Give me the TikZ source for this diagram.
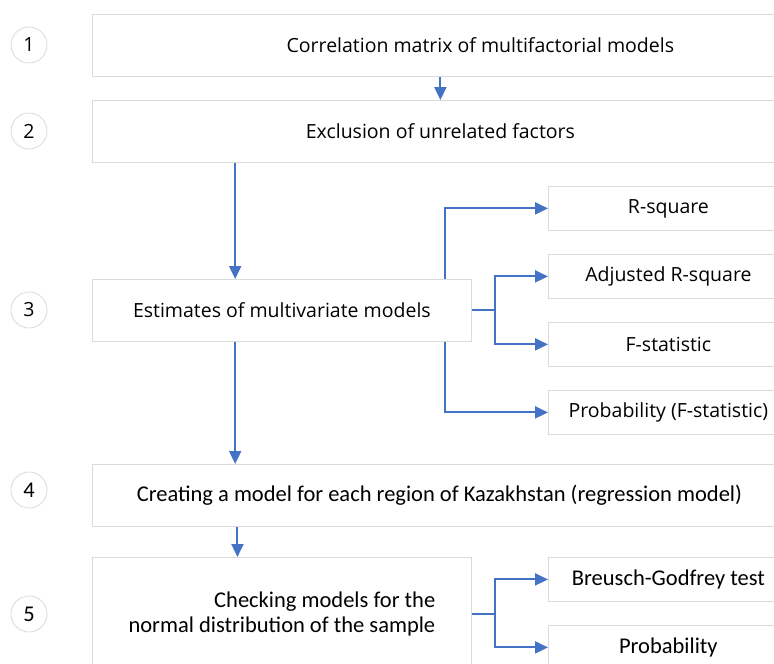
\documentclass[tikz,border=0pt]{standalone}
\usepackage{fontspec}
\setmainfont{Open Sans}
\newfontfamily\narrowfont{Carlito}
\usetikzlibrary{arrows.meta,positioning,calc}
\definecolor{flowblue}{HTML}{4472C4}
\definecolor{boxgray}{HTML}{DADADA}

\begin{document}
\begin{tikzpicture}[x=1pt,y=-1pt,>={Triangle[length=13pt,width=12pt]},
    every node/.style={font=\fontsize{19.5}{23}\selectfont},
    box/.style={draw=boxgray,line width=0.8pt,fill=white,inner sep=0pt,
      minimum height=62pt,anchor=north west},
    sidebox/.style={box,minimum width=240pt,minimum height=44pt},
    narrowtext/.style={font=\narrowfont\fontsize{22.5}{25}\selectfont},
    stepnum/.style={circle,draw=boxgray,line width=0.8pt,minimum size=36pt,
      inner sep=0pt},
    flow/.style={->,draw=flowblue,line width=2pt}]
    \useasboundingbox (0,0) rectangle (774,664);
    \clip (0,0) rectangle (774,664);

    % step numbers
    \node[stepnum] (n1) at (29,45) {1};
    \node[stepnum] (n2) at (29,131) {2};
    \node[stepnum] (n3) at (29,310) {3};
    \node[stepnum,narrowtext] (n4) at (29,490) {4};
    \node[stepnum,narrowtext] (n5) at (29,614) {5};

    % main boxes
    \node[box,minimum width=776pt] (b1) at (92,14)
    {Correlation matrix of multifactorial models};
    \node[box,minimum width=696pt] (b2) at (92,100)
    {Exclusion of unrelated factors};
    \node[box,minimum width=379pt] (b3) at (92,279)
    {Estimates of multivariate models};
    \node[box,narrowtext,minimum width=694pt] (b4) at (92,464)
    {Creating a model for each region of Kazakhstan (regression model)};
    \node[box,narrowtext,minimum width=379pt,minimum height=114pt,
      align=right] (b5) at (92,557)
    {Checking models for the\\normal distribution of the sample};

    % side boxes
    \node[sidebox] (r1) at (548,186) {R-square};
    \node[sidebox] (r2) at (548,254) {Adjusted R-square};
    \node[sidebox] (r3) at (548,322) {F-statistic};
    \node[sidebox] (r4) at (548,390) {Probability (F-statistic)};
    \node[sidebox,narrowtext] (t1) at (548,557) {Breusch-Godfrey test};
    \node[sidebox,narrowtext] (t2) at (548,625) {Probability};

    % main flow
    \draw[flow] (b1.south -| b2.north) -- (b2.north);
    \coordinate (d3) at ($(b3.north west)!.377!(b3.north east)$);
    \draw[flow] (b2.south -| d3) -- (d3);
    \draw[flow] ($(b3.south west)!.377!(b3.south east)$) -- (b4.north -| d3);
    \coordinate (d5) at ($(b5.north west)!.383!(b5.north east)$);
    \draw[flow] (b4.south -| d5) -- (d5);

    % branches
    \draw[flow] ($(b3.north west)!.929!(b3.north east)$) |- (r1.west);
    \draw[flow] ($(b3.south west)!.929!(b3.south east)$) |- (r4.west);
    \draw[flow,-] (b3.east) -- ++(23,0) coordinate (j3);
    \draw[flow] (j3) |- (r2.west);
    \draw[flow] (j3) |- (r3.west);
    \draw[flow,-] (b5.east) -- ++(23,0) coordinate (j5);
    \draw[flow] (j5) |- (t1.west);
    \draw[flow] (j5) |- (t2.west);

\end{tikzpicture}
\end{document}
